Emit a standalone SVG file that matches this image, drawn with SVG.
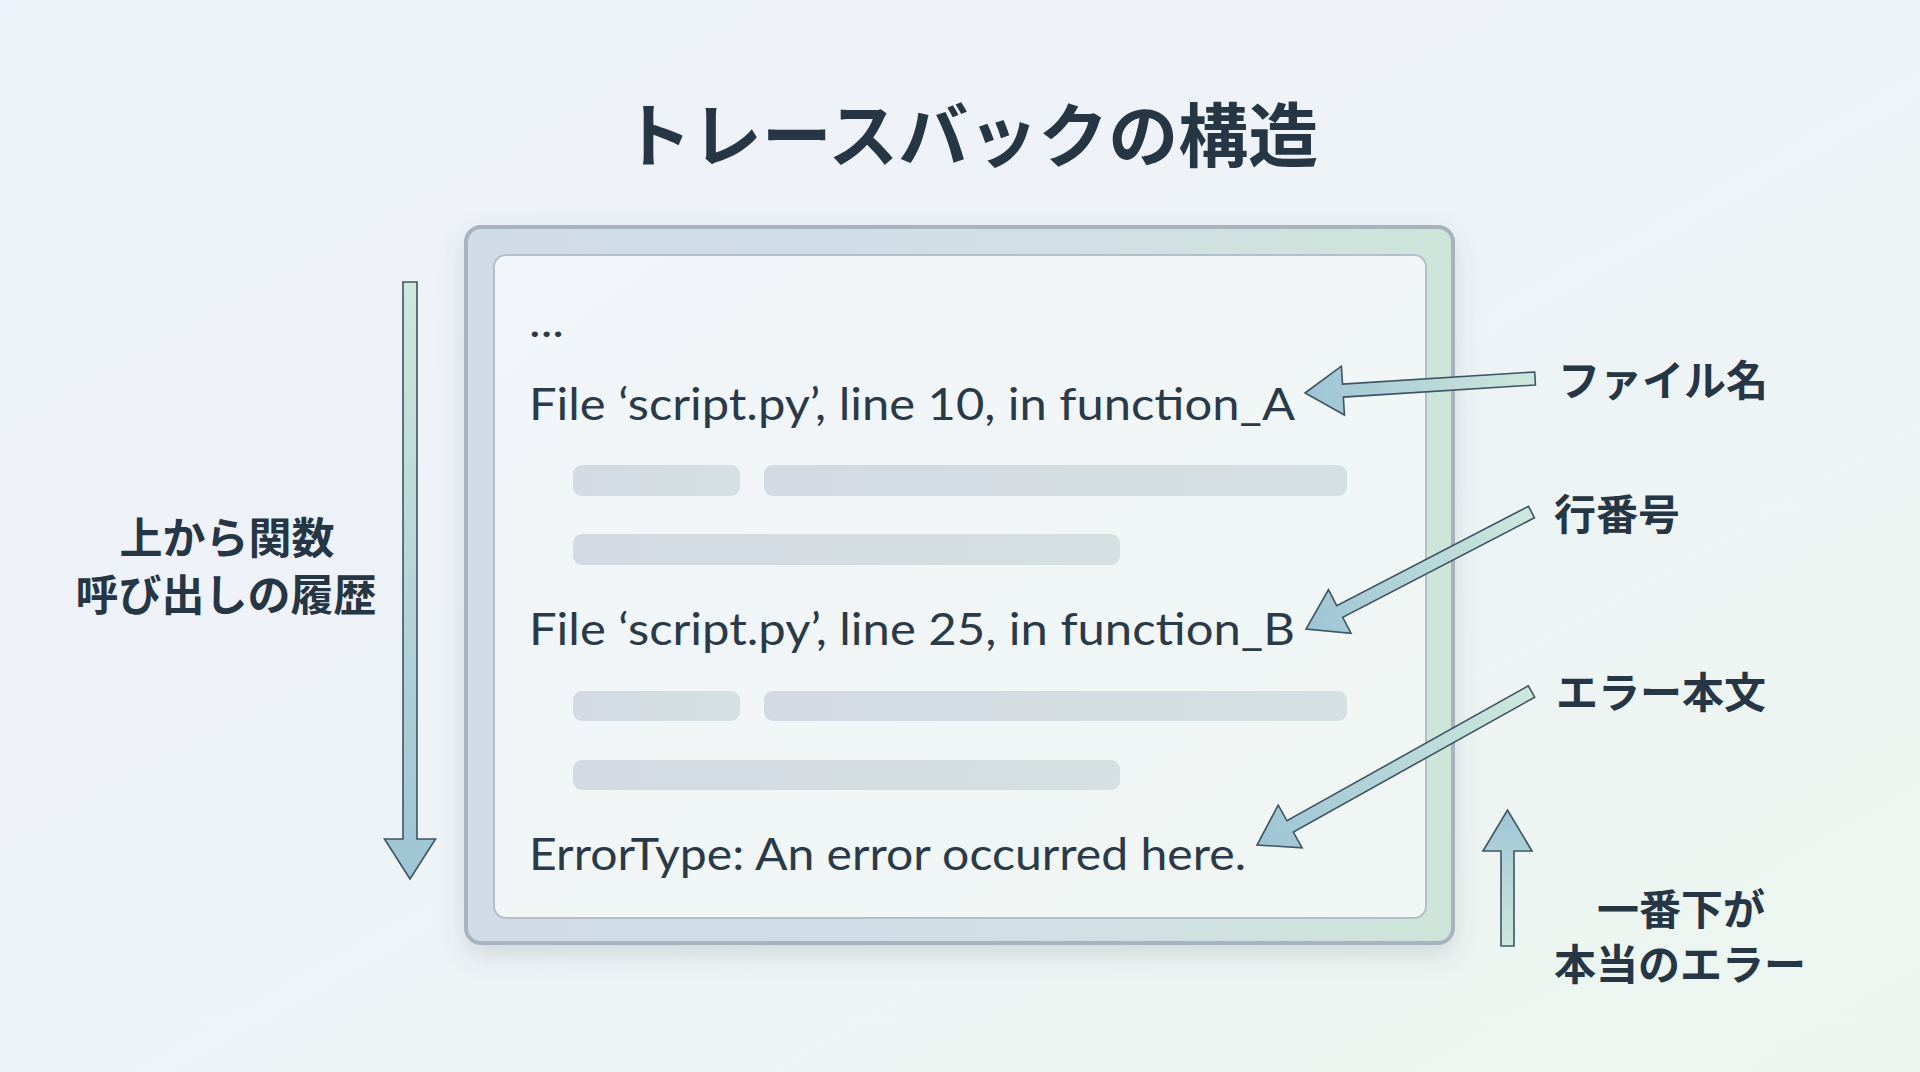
<svg xmlns="http://www.w3.org/2000/svg" width="1920" height="1072" viewBox="0 0 1920 1072">
  <style>
    .jp { font-family: "Noto Sans CJK JP", "Noto Sans", sans-serif; font-weight: 700; fill: #263644; }
    .code { font-family: "Lato", "Open Sans", sans-serif; font-size: 44px; fill: #2b3a48; }
    .bar { fill: url(#barGrad); }
    .arrow { fill: url(#arrowGrad); stroke: #3e5464; stroke-width: 1.6; stroke-linejoin: miter; }
  </style>
  <defs>
    <linearGradient id="bgGrad" x1="0" y1="0" x2="1" y2="1">
      <stop offset="0" stop-color="#eef2fa"/>
      <stop offset="0.5" stop-color="#eef3f7"/>
      <stop offset="1" stop-color="#ecf6ee"/>
    </linearGradient>
    <linearGradient id="frameGrad" x1="0" y1="0" x2="1" y2="0">
      <stop offset="0" stop-color="#d0dbe6"/>
      <stop offset="0.6" stop-color="#d2dfe6"/>
      <stop offset="1" stop-color="#cde5d9"/>
    </linearGradient>
    <linearGradient id="panelGrad" x1="0" y1="0" x2="1" y2="1">
      <stop offset="0" stop-color="#f2f5fa"/>
      <stop offset="1" stop-color="#f0f6f3"/>
    </linearGradient>
    <linearGradient id="barGrad" x1="0" y1="0" x2="1" y2="0">
      <stop offset="0" stop-color="#d3dae3"/>
      <stop offset="1" stop-color="#d5e0e2"/>
    </linearGradient>
    <linearGradient id="arrowGrad" x1="0" y1="0" x2="1" y2="0">
      <stop offset="0" stop-color="#cde8dc"/>
      <stop offset="1" stop-color="#9ec4d5"/>
    </linearGradient>
    <filter id="shadow" x="-10%" y="-10%" width="120%" height="125%">
      <feDropShadow dx="0" dy="10" stdDeviation="12" flood-color="#51606e" flood-opacity="0.18"/>
    </filter>
  </defs>

  <rect x="0" y="0" width="1920" height="1072" fill="url(#bgGrad)"/>

  <g id="title">
    <text class="jp" x="970" y="162" font-size="70" text-anchor="middle">トレースバックの構造</text>
  </g>

  <g id="traceback-window">
    <rect x="466" y="227" width="987" height="716" rx="15" fill="url(#frameGrad)" stroke="#a7b3be" stroke-width="4" filter="url(#shadow)"/>
    <rect x="494" y="255" width="932" height="663" rx="12" fill="url(#panelGrad)" stroke="#b4bfc9" stroke-width="2"/>
    <text class="code" x="529" y="337" textLength="35" lengthAdjust="spacingAndGlyphs">...</text>
    <text class="code" x="529" y="420" textLength="766" lengthAdjust="spacingAndGlyphs">File ‘script.py’, line 10, in function_A</text>
    <rect class="bar" x="573" y="465" width="167" height="31" rx="9"/>
    <rect class="bar" x="764" y="465" width="583" height="31" rx="9"/>
    <rect class="bar" x="573" y="534" width="547" height="31" rx="9"/>
    <text class="code" x="529" y="645" textLength="766" lengthAdjust="spacingAndGlyphs">File ‘script.py’, line 25, in function_B</text>
    <rect class="bar" x="573" y="691" width="167" height="30" rx="9"/>
    <rect class="bar" x="764" y="691" width="583" height="30" rx="9"/>
    <rect class="bar" x="573" y="760" width="547" height="30" rx="9"/>
    <text class="code" x="529" y="870" textLength="717" lengthAdjust="spacingAndGlyphs">ErrorType: An error occurred here.</text>
  </g>

  <g id="label-history">
    <text class="jp" x="227" y="554" font-size="43" text-anchor="middle">上から関数</text>
    <text class="jp" x="226" y="611" font-size="43" text-anchor="middle">呼び出しの履歴</text>
  </g>
  <g id="label-filename">
    <text class="jp" x="1558" y="396" font-size="42">ファイル名</text>
  </g>
  <g id="label-lineno">
    <text class="jp" x="1554" y="530" font-size="42">行番号</text>
  </g>
  <g id="label-errortext">
    <text class="jp" x="1556" y="708" font-size="42">エラー本文</text>
  </g>
  <g id="label-bottom">
    <text class="jp" x="1681" y="925" font-size="42" text-anchor="middle">一番下が</text>
    <text class="jp" x="1680" y="980" font-size="42" text-anchor="middle">本当のエラー</text>
  </g>

  <g id="connectors">
    <polygon class="arrow" transform="translate(410,879) rotate(90)" points="-597,-7 -40,-7 -40,-25.5 0,0 -40,25.5 -40,7 -597,7"/>
    <polygon class="arrow" transform="translate(1305,393) rotate(176.39)" points="-230.5,-6.5 -38,-6.5 -38,-24.5 0,0 -38,24.5 -38,6.5 -230.5,6.5"/>
    <polygon class="arrow" transform="translate(1306,629) rotate(152.58)" points="-254,-6.5 -38,-6.5 -38,-24.5 0,0 -38,24.5 -38,6.5 -254,6.5"/>
    <polygon class="arrow" transform="translate(1257,845) rotate(150.79)" points="-314.5,-6.5 -38,-6.5 -38,-24.5 0,0 -38,24.5 -38,6.5 -314.5,6.5"/>
    <polygon class="arrow" transform="translate(1507.5,810) rotate(-90)" points="-136,-6.5 -41,-6.5 -41,-24.5 0,0 -41,24.5 -41,6.5 -136,6.5"/>
  </g>
</svg>
